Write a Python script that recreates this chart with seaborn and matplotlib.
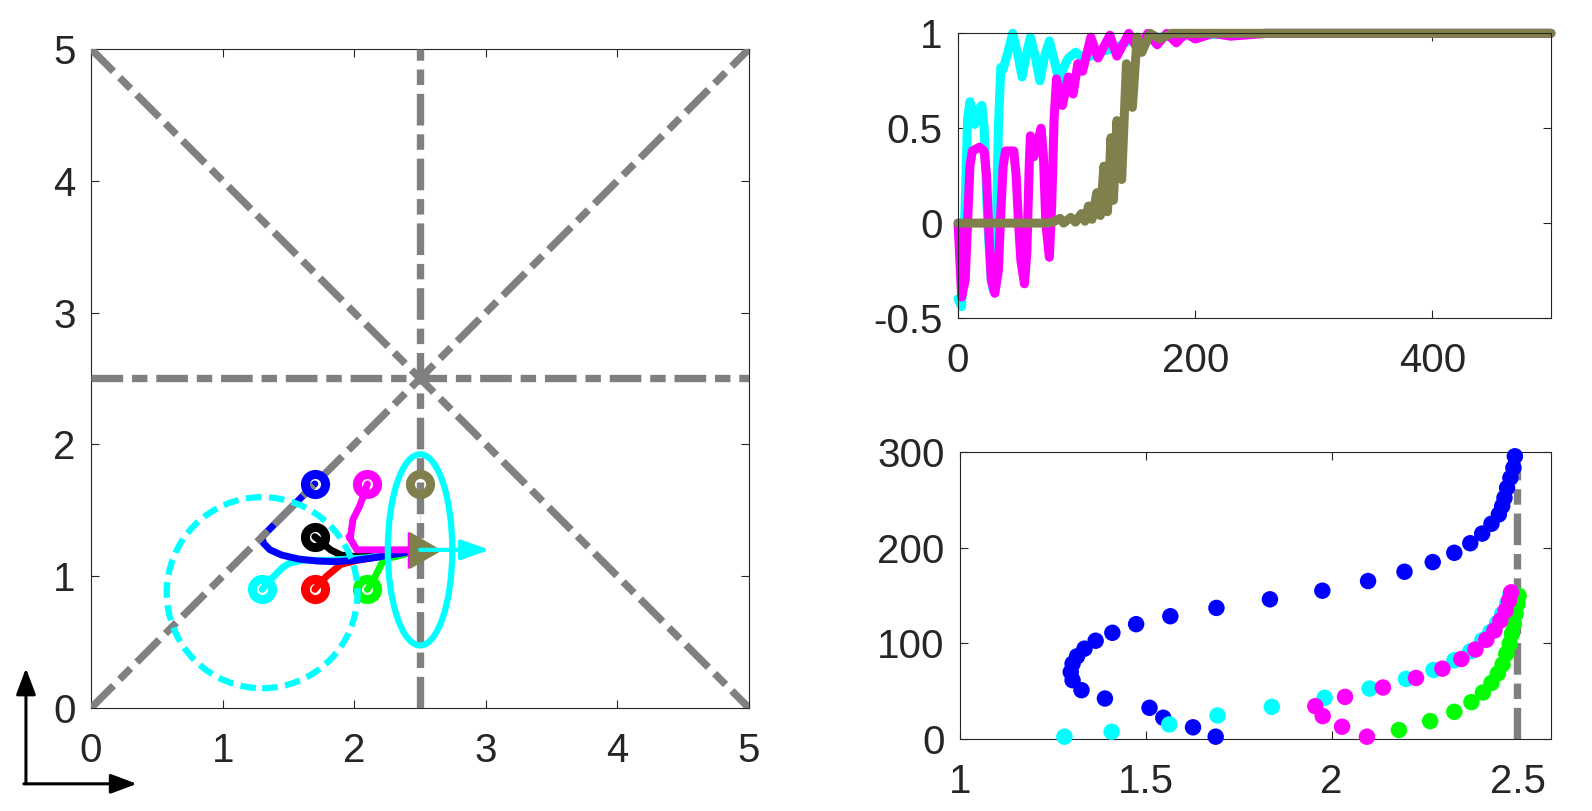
import matplotlib
matplotlib.use('Agg')
import matplotlib.pyplot as plt
import seaborn as sns
import numpy as np
import pandas as pd
from matplotlib.patches import Ellipse, Circle, FancyArrowPatch
from matplotlib.ticker import FuncFormatter

OLIVE = (0.5, 0.5, 0.3)
GRAY = (0.5, 0.5, 0.5)
INK = '#262626'

# ---- left panel: arena, start positions and paths
start_x = [1.7, 2.1, 2.5, 1.7, 1.3, 1.7, 2.1]
start_y = [1.7, 1.7, 1.7, 1.3, 0.9, 0.9, 0.9]
start_col = ['blue', 'magenta', OLIVE, 'black', 'cyan', 'red', 'lime']

blue_x = [1.7, 1.6, 1.5, 1.4, 1.3, 1.31, 1.36, 1.45, 1.58, 1.72, 1.86, 2.0, 2.15, 2.3, 2.42, 2.5]
blue_y = [1.7, 1.6, 1.5, 1.4, 1.3, 1.25, 1.2, 1.16, 1.13, 1.115, 1.11, 1.12, 1.14, 1.165, 1.185, 1.2]
black_x = [1.7, 1.76, 1.82, 1.9, 2.0, 2.2, 2.5]
black_y = [1.3, 1.25, 1.2, 1.16, 1.15, 1.17, 1.2]
cyan_x = [1.3, 1.36, 1.41, 1.46, 1.51, 1.6, 1.8, 2.1, 2.5]
cyan_y = [0.9, 0.97, 1.02, 1.07, 1.10, 1.12, 1.12, 1.14, 1.2]
red_x = [1.7, 1.75, 1.79, 1.85, 1.9, 2.02, 2.2, 2.5]
red_y = [0.9, 0.96, 1.0, 1.05, 1.09, 1.12, 1.15, 1.2]
green_x = [2.1, 2.14, 2.17, 2.2, 2.22, 2.27, 2.32, 2.5]
green_y = [0.9, 0.96, 1.02, 1.08, 1.12, 1.14, 1.15, 1.2]
mag_x = [2.1, 2.07, 2.04, 1.99, 1.97, 1.96, 1.97, 2.02, 2.2, 2.5]
mag_y = [1.7, 1.61, 1.53, 1.43, 1.36, 1.30, 1.22, 1.20, 1.2, 1.2]
olive_x = [2.5, 2.5]
olive_y = [1.7, 1.2]

goal_x, goal_y = 2.5, 1.2
heading_x = [2.5, 3.03]
guide_x = [[0, 5], [0, 5], [2.5, 2.5], [0, 5]]
guide_y = [[0, 5], [5, 0], [0, 5], [2.5, 2.5]]
ell_center, ell_w, ell_h = (2.5, 1.2), 0.49, 1.45
circ_center, circ_r = (1.3, 0.875), 0.725

# ---- top right: time series
cy_t = [0, 3, 6, 8, 10, 12, 14, 17, 20, 22, 25, 28, 30, 32, 34, 36, 38, 42, 46, 50, 54, 58, 61, 65,
        69, 73, 77, 81, 85, 89, 93, 99, 106, 112, 118, 125, 135, 144, 155, 170, 190, 220, 260, 500]
cy_v = [-0.40, -0.44, 0.1, 0.55, 0.64, 0.58, 0.52, 0.60, 0.62, 0.5, 0.0, -0.3, -0.36, -0.1, 0.5,
        0.82, 0.81, 0.9, 1.0, 0.9, 0.77, 0.9, 0.98, 0.88, 0.75, 0.88, 0.96, 0.86, 0.75, 0.82, 0.87,
        0.9, 0.87, 0.88, 0.9, 0.91, 0.93, 0.96, 0.97, 0.98, 0.99, 0.995, 1.0, 1.0]
mg_t = [0, 3, 6, 8, 10, 12, 18, 22, 24, 26, 28, 31, 34, 36, 38, 40, 47, 49, 51, 53, 56, 58, 60, 61,
        64, 66, 70, 72, 74, 77, 79, 81, 83, 88, 93, 97, 101, 105, 112, 118, 128, 134, 144, 152, 160,
        168, 176, 184, 192, 200, 215, 230, 260, 500]
mg_v = [0.0, -0.39, -0.3, 0.0, 0.3, 0.38, 0.40, 0.38, 0.25, -0.05, -0.3, -0.37, -0.25, 0.05, 0.3,
        0.38, 0.38, 0.25, 0.0, -0.2, -0.32, -0.15, 0.3, 0.46, 0.35, 0.4, 0.5, 0.35, 0.0, -0.18, 0.1,
        0.55, 0.76, 0.62, 0.77, 0.68, 0.84, 0.8, 0.98, 0.87, 0.99, 0.88, 1.0, 0.91, 1.0, 0.94, 1.0,
        0.95, 1.0, 0.97, 1.0, 0.985, 1.0, 1.0]
ol_t = [0, 75, 80, 86, 89, 95, 99, 104, 107, 110, 113, 117, 120, 123, 126, 129, 131, 134, 136, 138,
        142, 147, 151, 155, 162, 170, 180, 500]
ol_v = [0.0, 0.0, 0.005, 0.025, 0.0, 0.03, 0.005, 0.05, 0.01, 0.09, 0.02, 0.16, 0.04, 0.3, 0.06,
        0.45, 0.12, 0.54, 0.25, 0.23, 0.84, 0.61, 0.98, 0.9, 1.0, 0.97, 1.0, 1.0]

# ---- bottom right: x position vs time
bl_x = [1.688, 1.627, 1.547, 1.510, 1.390, 1.327, 1.303, 1.298, 1.303, 1.315, 1.335, 1.365, 1.410,
        1.474, 1.566, 1.690, 1.834, 1.975, 2.098, 2.196, 2.272, 2.330, 2.373, 2.405, 2.430, 2.450,
        2.459, 2.465, 2.472, 2.481, 2.489, 2.493]
bl_t = [2.4, 12.2, 22.2, 32.6, 42.3, 51, 61.4, 70, 78.7, 86.4, 94.4, 102.7, 111, 120, 128.3, 137,
        146, 155, 165.1, 174.8, 184.9, 194.6, 204.6, 214.7, 225, 234.8, 243.5, 252, 262.5, 273,
        283.4, 295.5]
cn_x = [1.281, 1.408, 1.563, 1.693, 1.839, 1.981, 2.102, 2.200, 2.274, 2.330, 2.373, 2.405, 2.427,
        2.445, 2.459, 2.472, 2.481]
cn_t = [2.4, 7.6, 15.2, 24.6, 33.6, 43, 52.7, 62.8, 72.2, 82.2, 91.6, 103, 111.7, 121, 130.8, 141.2,
        151.6]
mg_px = [2.095, 2.028, 1.976, 1.956, 2.036, 2.138, 2.227, 2.298, 2.349, 2.387, 2.416, 2.438, 2.454,
         2.468, 2.477, 2.483]
mg_pt = [2.4, 12.8, 23.9, 34.3, 44, 53.8, 63.8, 73.5, 83.6, 93.6, 103.7, 113.4, 123.8, 134.2, 144.6,
         153.3]
gr_x = [2.181, 2.265, 2.330, 2.376, 2.407, 2.430, 2.447, 2.460, 2.470, 2.479, 2.485, 2.490, 2.495,
        2.500, 2.503]
gr_t = [9.4, 18.7, 28.4, 38.5, 48.6, 58.6, 68.4, 78, 89.2, 99.6, 110, 120.4, 130.8, 141.2, 149.8]
wall_t = [0, 290]

sns.set_theme(style='ticks')
plt.rcParams['font.family'] = ['Liberation Sans', 'DejaVu Sans']
plt.rcParams['axes.unicode_minus'] = False

fig = plt.figure(figsize=(15.92, 8.11), dpi=100)
axL = fig.add_axes([0.0572, 0.1270, 0.4133, 0.8126])
axT = fig.add_axes([0.6018, 0.6079, 0.3724, 0.3510])
axB = fig.add_axes([0.6030, 0.0888, 0.3712, 0.3539])

dashdot = (0, (4.3, 1.2, 2.1, 1.2))

# left panel
paths = [(black_x, black_y, 'black'), (red_x, red_y, 'red'), (cyan_x, cyan_y, 'cyan'),
         (green_x, green_y, 'lime'), (blue_x, blue_y, 'blue'), (mag_x, mag_y, 'magenta'),
         (olive_x, olive_y, OLIVE)]
for px, py, c in paths:
    sns.lineplot(x=px, y=py, ax=axL, color=c, linewidth=5, sort=False, zorder=2)
for gx, gy in zip(guide_x, guide_y):
    axL.plot(gx, gy, color=GRAY, linewidth=5.3, ls=dashdot, dash_capstyle='butt', zorder=3)
for sx, sy, c in zip(start_x, start_y, start_col):
    axL.plot(sx, sy, 'o', ms=14.5, mew=6.5, mfc='none', mec=c, zorder=4)
axL.add_patch(Ellipse(ell_center, ell_w, ell_h, fill=False, ec='cyan', linewidth=4.5, zorder=5))
axL.add_patch(Circle(circ_center, circ_r, fill=False, ec='cyan', linewidth=4.5,
                     ls=(0, (2.5, 1.2)), zorder=5))
axL.plot(goal_x - 0.012, goal_y, marker=(3, 0, -90), ms=31, color='magenta', mew=0, zorder=6)
axL.plot(goal_x, goal_y, marker=(3, 0, -90), ms=31, color=OLIVE, mew=0, zorder=6)
axL.annotate('', xy=(heading_x[1], goal_y), xytext=(heading_x[0], goal_y),
             arrowprops=dict(arrowstyle='-|>,head_length=0.85,head_width=0.3', color='cyan',
                             lw=3, shrinkA=0, shrinkB=0, mutation_scale=20), zorder=7)
axL.set_xlim(0, 5)
axL.set_ylim(0, 5)
axL.set_xticks(range(6))
axL.set_yticks(range(6))

# top right
for tt, vv, c in [(cy_t, cy_v, 'cyan'), (mg_t, mg_v, 'magenta'), (ol_t, ol_v, OLIVE)]:
    sns.lineplot(x=tt, y=vv, ax=axT, color=c, linewidth=6.5, sort=False, clip_on=False,
                 solid_joinstyle='round')
axT.set_xlim(0, 500)
axT.set_ylim(-0.5, 1)
axT.set_xticks([0, 200, 400])
axT.set_yticks([-0.5, 0, 0.5, 1])

# bottom right
axB.plot([2.5, 2.5], wall_t, color=GRAY, linewidth=5.3, ls=dashdot, dash_capstyle='butt', zorder=1)
pts = pd.concat([
    pd.DataFrame({'x': bl_x, 't': bl_t, 'agent': 'blue'}),
    pd.DataFrame({'x': cn_x, 't': cn_t, 'agent': 'cyan'}),
    pd.DataFrame({'x': gr_x, 't': gr_t, 'agent': 'lime'}),
    pd.DataFrame({'x': mg_px, 't': mg_pt, 'agent': 'magenta'}),
])
sns.scatterplot(data=pts, x='x', y='t', hue='agent',
                palette={'blue': 'blue', 'cyan': 'cyan', 'lime': 'lime', 'magenta': 'magenta'},
                s=140, edgecolor='none', legend=False, ax=axB, clip_on=False, zorder=3)
axB.set_xlim(1, 2.59)
axB.set_ylim(0, 300)
axB.set_xticks([1, 1.5, 2, 2.5])
axB.set_yticks([0, 100, 200, 300])

fmt = FuncFormatter(lambda v, p: '%g' % v)
for ax in (axL, axT, axB):
    ax.set_xlabel('')
    ax.set_ylabel('')
    ax.xaxis.set_major_formatter(fmt)
    ax.yaxis.set_major_formatter(fmt)
    for s in ax.spines.values():
        s.set_visible(True)
        s.set_color(INK)
        s.set_linewidth(0.8)
    ax.tick_params(direction='in', top=True, right=True, length=5.5, width=0.8,
                   color=INK, labelcolor=INK, labelsize=29)
    ax.tick_params(axis='x', pad=17)
    ax.tick_params(axis='y', pad=11)

# frame arrows in the corner
arrow_kw = dict(arrowstyle='-|>,head_length=0.8,head_width=0.3', color='black', lw=2.2,
                shrinkA=0, shrinkB=0, mutation_scale=20)
fig.add_artist(FancyArrowPatch((0.0163, 0.0335), (0.0163, 0.176),
                               transform=fig.transFigure, **arrow_kw))
fig.add_artist(FancyArrowPatch((0.0150, 0.0335), (0.086, 0.0335),
                               transform=fig.transFigure, **arrow_kw))

fig.savefig('out.png', dpi=100)
